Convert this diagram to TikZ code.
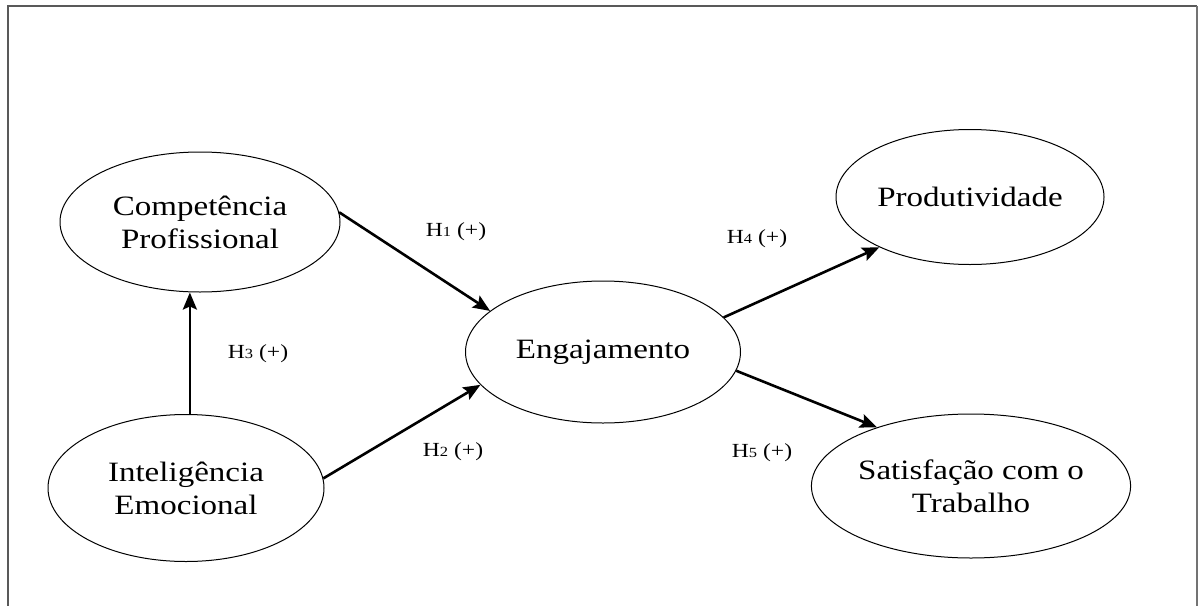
\documentclass[tikz,border=0pt]{standalone}
\usepackage{fontspec}
\setmainfont[FakeStretch=1.18]{Liberation Serif}
\usetikzlibrary{shapes.geometric,arrows.meta}
\begin{document}
\begin{tikzpicture}[x=1pt,y=-1pt,
  var/.style={draw,ellipse,line width=1pt,inner sep=0pt,align=center,font=\fontsize{28}{33}\selectfont},
  conn/.style={line width=2.6pt,-{Stealth[length=17pt,width=14pt,inset=3pt]}},
  hyp/.style={font=\fontsize{20}{24}\selectfont}]
\useasboundingbox (0,0) rectangle (1199,605);
\draw[line width=2.4pt,draw=black!65] (8,610) -- (8,6) -- (1197,6);
\draw[line width=1.4pt,draw=black!55] (1197,6) -- (1197,610);
\node[var,minimum width=280pt,minimum height=140pt] (cp) at (200,222) {Competência\\Profissional};
\node[var,minimum width=276pt,minimum height=147pt] (ie) at (186,488) {Inteligência\\Emocional};
\node[var,minimum width=275pt,minimum height=142pt] (en) at (603,352) {Engajamento};
\node[var,minimum width=268pt,minimum height=135pt] (pr) at (970,197) {Produtividade};
\node[var,minimum width=302pt,minimum height=144pt] (st) at (971,486) {Satisfação com o\\Trabalho};
\draw[conn] (ie.87) -- (ie.87 |- cp.south);
\draw[conn] (cp.4) -- (en.160);
\draw[conn] (ie.4) -- (en.195);
\draw[conn] (en.16) -- (pr.209);
\draw[conn] (en.-8) -- (st.148);
\newcommand{\hsub}[1]{{\fontsize{14}{16}\selectfont #1}}
\node[hyp] (h1) at (456,232) {H\hsub{1} (+)};
\node[hyp] (h3) at (258,354) {H\hsub{3} (+)};
\node[hyp] (h2) at (453,452) {H\hsub{2} (+)};
\node[hyp] (h4) at (757,239) {H\hsub{4} (+)};
\node[hyp] (h5) at (762,453) {H\hsub{5} (+)};
\end{tikzpicture}
\end{document}
